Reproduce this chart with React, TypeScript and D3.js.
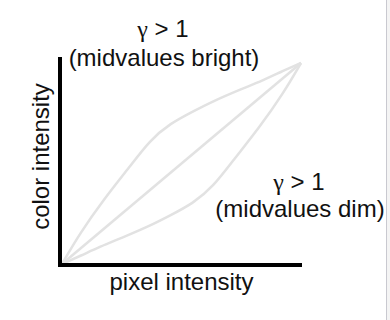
import React from "react";
import * as d3 from "d3";

const upperX = [0, 0.074, 0.172, 0.283, 0.367, 0.451, 0.55, 0.632, 0.75, 0.841, 0.92, 1];
const upperY = [0, 0.151, 0.317, 0.483, 0.615, 0.698, 0.76, 0.81, 0.87, 0.914, 0.958, 1];
const middleX = [0, 1];
const middleY = [0, 1];
const lowerX = [0, 0.08, 0.159, 0.25, 0.368, 0.45, 0.549, 0.633, 0.717, 0.828, 0.926, 1];
const lowerY = [0, 0.042, 0.086, 0.13, 0.19, 0.24, 0.302, 0.385, 0.517, 0.683, 0.849, 1];

const xLabel = "pixel intensity";
const yLabel = "color intensity";
const topLabel = ["γ", " > 1", "(midvalues bright)"];
const rightLabel = ["γ", " > 1", "(midvalues dim)"];

const W = 390;
const H = 320;

export default function App() {
  const x = d3.scaleLinear().domain([0, 1]).range([62, 301]);
  const y = d3.scaleLinear().domain([0, 1]).range([264, 63]);
  const line = d3
    .line<[number, number]>()
    .x((d) => x(d[0]))
    .y((d) => y(d[1]))
    .curve(d3.curveBasis);
  const series = [
    upperX.map((v, i) => [v, upperY[i]] as [number, number]),
    middleX.map((v, i) => [v, middleY[i]] as [number, number]),
    lowerX.map((v, i) => [v, lowerY[i]] as [number, number]),
  ];
  const font = "'Liberation Sans', Arial, Helvetica, sans-serif";
  const fs = 24;
  return (
    <svg
      width={W}
      height={H}
      style={{ position: "fixed", left: 0, top: 0, background: "#fff" }}
    >
      <rect x={387} y={0} width={3} height={H} fill="#f4f4f4" />
      <line x1={386.5} x2={386.5} y1={0} y2={H} stroke="#c9c9d0" strokeWidth={1} />
      {series.map((s, i) => (
        <path key={i} d={line(s) || ""} fill="none" stroke="#e2e2e2" strokeWidth={2.5} />
      ))}
      <line x1={60} x2={60} y1={57} y2={267} stroke="#000" strokeWidth={4} />
      <line x1={58} x2={302} y1={265} y2={265} stroke="#000" strokeWidth={4} />
      <g fontFamily={font} fontSize={fs} fill="#111">
        <text x={163} y={37} textAnchor="middle">
          <tspan fontFamily="'Liberation Serif', 'Times New Roman', serif">{topLabel[0]}</tspan>
          <tspan>{topLabel[1]}</tspan>
        </text>
        <text x={164} y={66} textAnchor="middle">{topLabel[2]}</text>
        <text x={299} y={190} textAnchor="middle">
          <tspan fontFamily="'Liberation Serif', 'Times New Roman', serif">{rightLabel[0]}</tspan>
          <tspan>{rightLabel[1]}</tspan>
        </text>
        <text x={300} y={217} textAnchor="middle">{rightLabel[2]}</text>
        <text x={181.5} y={290} textAnchor="middle">{xLabel}</text>
        <text
          transform={`translate(49,156.5) rotate(-90)`}
          textAnchor="middle"
        >
          {yLabel}
        </text>
      </g>
    </svg>
  );
}
